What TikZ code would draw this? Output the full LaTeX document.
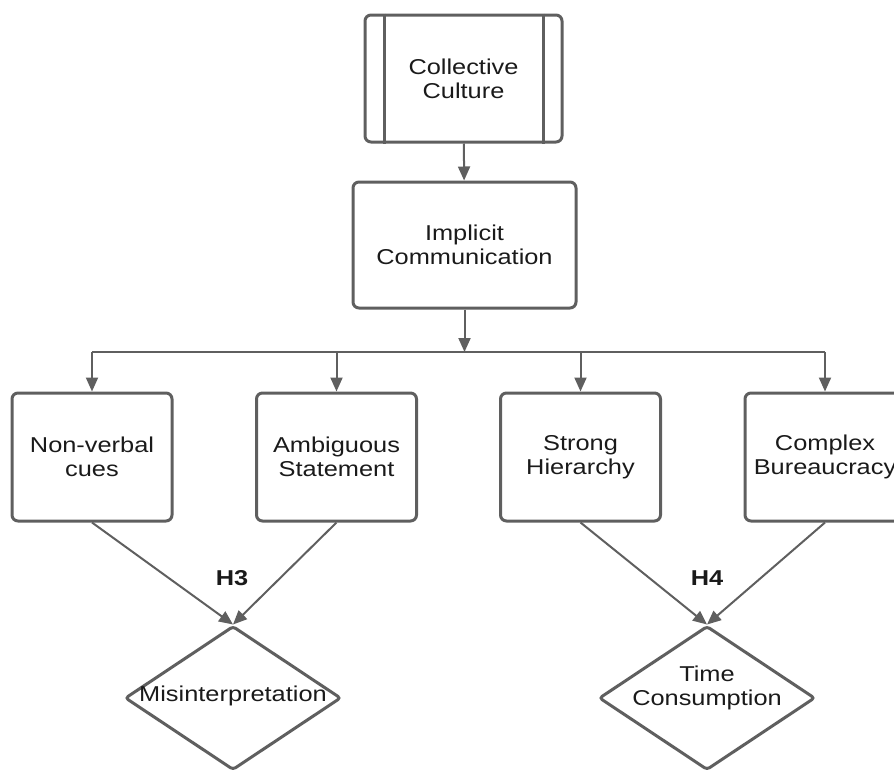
\documentclass[tikz,border=0pt]{standalone}
\usepackage{fontspec}
\setmainfont{Liberation Sans}[FakeStretch=1.18]
\usetikzlibrary{positioning,arrows.meta,shapes.geometric,calc}

\definecolor{edgegray}{HTML}{5F5F5F}
\definecolor{textdark}{HTML}{1A1A1A}

\begin{document}
\begin{tikzpicture}[x=1pt,y=-1pt,
        every node/.style={font=\fontsize{21.5}{24}\selectfont,text=textdark,align=center},
        box/.style={rectangle,draw=edgegray,line width=3pt,rounded corners=6pt,minimum width=160pt,minimum height=128pt,inner sep=0pt},
        decision/.style={diamond,draw=edgegray,line width=3pt,rounded corners=3pt,minimum width=216pt,minimum height=144pt,inner sep=0pt},
        link/.style={draw=edgegray,line width=2pt,-{Triangle[length=14pt,width=12pt]}}]
        \useasboundingbox (0,0) rectangle (894,769);

        \node[box,minimum width=197pt,minimum height=127pt] (culture) at (463.5,78.5) {Collective\\Culture};
        \node[box,minimum width=223pt,minimum height=126pt] (implicit) at (464.5,245) {Implicit\\Communication};

        \node[box] (cues) at (92,457) {Non-verbal\\cues};
        \node[box] (ambig) at (336.5,457) {Ambiguous\\Statement};
        \node[box] (strong) at (580.5,457) {Strong\\Hierarchy};
        \node[box] (bureau) at (825,457) {Complex\\Bureaucracy};

        \node[decision,label={[align=center,yshift=2pt]center:Misinterpretation}] (misread) at (233,698) {};
        \node[decision,label={[align=center,yshift=10pt]center:Time\\Consumption}] (timecost) at (707,698) {};

        \node[font=\bfseries\fontsize{21.5}{24}\selectfont] (h3) at (232,578) {H3};
        \node[font=\bfseries\fontsize{21.5}{24}\selectfont] (h4) at (707,578) {H4};

        % side bars of the top box
        \draw[edgegray,line width=3pt] ([xshift=21pt]culture.north west) -- ([xshift=21pt]culture.south west);
        \draw[edgegray,line width=3pt] ([xshift=-20pt]culture.north east) -- ([xshift=-20pt]culture.south east);

        \coordinate (split) at (464.5,352);

        \draw[link] (culture) -- (implicit);
        \draw[link] (implicit) -- (split);
        \draw[edgegray,line width=2pt] (cues.north |- split) -- (bureau.north |- split);
        \foreach \n in {cues,ambig,strong,bureau}
            \draw[link] (\n.north |- split) -- (\n.north);

        \draw[link] (cues.south) -- (misread.north);
        \draw[link] (ambig.south) -- (misread.north);
        \draw[link] (strong.south) -- (timecost.north);
        \draw[link] (bureau.south) -- (timecost.north);

    \end{tikzpicture}
\end{document}
